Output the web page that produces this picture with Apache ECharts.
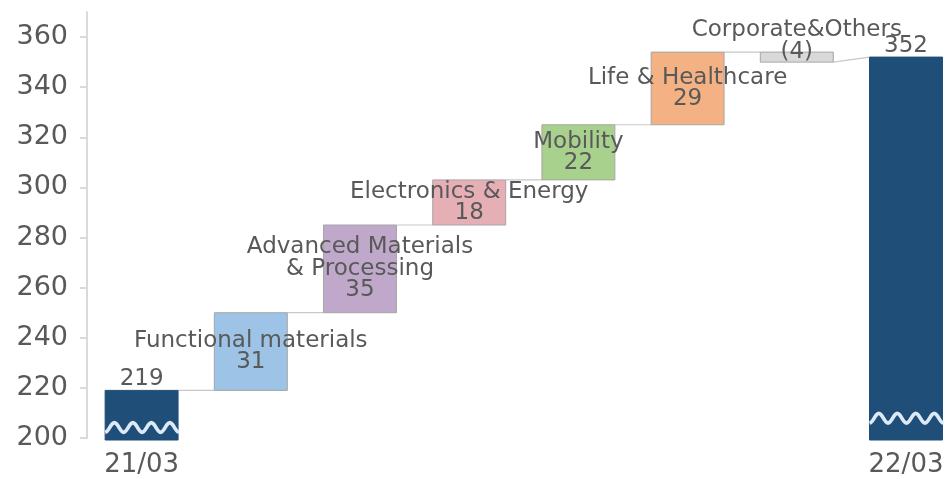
<!DOCTYPE html>
<html><head><meta charset="utf-8">
<script src="https://cdn.jsdelivr.net/npm/echarts@6/dist/echarts.min.js"></script>
<style>html,body{margin:0;padding:0;background:#fff}#c{width:946px;height:479px}</style>
</head><body><div id="c"></div>
<script>
// ---- data ----
const categories = ['21/03', 'Functional materials', 'Advanced Materials\n& Processing', 'Electronics & Energy', 'Mobility', 'Life & Healthcare', 'Corporate&Others', '22/03'];
const values = [219, 31, 35, 18, 22, 29, -4, 352];   // first and last are totals
const totalIdx = [0, 7];
const valueLabels = ['219', '31', '35', '18', '22', '29', '(4)', '352'];
const yTicks = [200, 220, 240, 260, 280, 300, 320, 340, 360];

// ---- styles ----
const barColors = ['#1F4E79', '#9DC3E6', '#BFA8CA', '#E6AFB6', '#A9D18E', '#F4B183', '#D9D9D9', '#1F4E79'];
const FONT = 'DejaVu Sans';
const TXT = '#595959';
const AXIS_MIN = 200, AXIS_MAX = 370;

// build ranges
const bars = [];
const connectors = [];
let running = 0;
values.forEach((v, i) => {
  const isTotal = totalIdx.includes(i);
  let lo, hi, start, end;
  if (isTotal) { lo = AXIS_MIN; hi = v; start = v; end = v; running = v; }
  else { start = running; end = running + v; lo = Math.min(start, end); hi = Math.max(start, end); running = end; }
  bars.push([i, lo, hi, start, end]);
});
for (let i = 0; i < bars.length - 1; i++) connectors.push([i, bars[i][4], bars[i + 1][3]]);

const chart = echarts.init(document.getElementById('c'), null, { renderer: 'canvas' });
const BAR_RATIO = 0.668;

chart.setOption({
  animation: false,
  grid: { left: 87, right: -14.6, top: 12, bottom: 41, outerBoundsMode: 'none', containLabel: false },
  xAxis: {
    type: 'category', data: categories,
    axisLine: { show: false }, axisTick: { show: false },
    axisLabel: {
      interval: 0, margin: 14, color: TXT, fontFamily: FONT, fontSize: 26,
      formatter: (v, idx) => totalIdx.includes(idx) ? v : ''
    }
  },
  yAxis: {
    type: 'value', min: AXIS_MIN, max: AXIS_MAX,
    splitLine: { show: false },
    axisLine: { show: true, lineStyle: { color: '#DADADA', width: 2 } },
    axisTick: { show: true, length: 7, lineStyle: { color: '#DADADA', width: 2 }, customValues: yTicks },
    axisLabel: { color: TXT, fontFamily: FONT, fontSize: 27, margin: 19, customValues: yTicks }
  },
  series: [
    {
      type: 'custom', z: 1, data: connectors, clip: false,
      renderItem(params, api) {
        const i = api.value(0);
        const w = api.size([1, 0])[0] * BAR_RATIO;
        const p1 = api.coord([i, api.value(1)]);
        const p2 = api.coord([i + 1, api.value(2)]);
        return { type: 'line', shape: { x1: p1[0] + w / 2, y1: p1[1], x2: p2[0] - w / 2, y2: p2[1] },
          style: { stroke: '#C8C8C8', lineWidth: 1.2 } };
      }
    },
    {
      type: 'custom', z: 2, data: bars, clip: false,
      renderItem(params, api) {
        const i = api.value(0);
        const w = api.size([1, 0])[0] * BAR_RATIO;
        const pLo = api.coord([i, api.value(1)]);
        const pHi = api.coord([i, api.value(2)]);
        const x = pLo[0] - w / 2;
        const isTotal = totalIdx.includes(i);
        const text = isTotal ? valueLabels[i] : categories[i] + '\n' + valueLabels[i];
        let pos = 'inside', dist = 0;
        if (isTotal) { pos = 'top'; dist = 0; }
        else if (values[i] < 0) { pos = 'insideBottom'; dist = 0; }
        const children = [{
          type: 'rect',
          shape: { x: x, y: pHi[1], width: w, height: pLo[1] - pHi[1] + (isTotal ? 2 : 0) },
          style: { fill: barColors[i], stroke: isTotal ? barColors[i] : '#A6A6A6', lineWidth: 1 },
          textContent: { style: { text: text, fill: TXT, fontFamily: FONT, fontSize: 23, lineHeight: 21.5, align: 'center' } },
          textConfig: { position: pos, distance: dist }
        }];
        if (isTotal) {
          const lvl = i === 0 ? 204.2 : 207.9;
          const cy = api.coord([i, lvl])[1];
          const A = 4.8, N = 4, steps = 64;
          const pts = [];
          for (let k = 0; k <= steps; k++) {
            const t = k / steps;
            pts.push([x + t * (w + 1), cy + A * Math.cos(2 * Math.PI * N * t)]);
          }
          children.push({ type: 'polyline', shape: { points: pts }, style: { stroke: '#DCE9F6', lineWidth: 3.6, fill: null } });
        }
        return { type: 'group', children };
      }
    }
  ]
});
</script></body></html>
